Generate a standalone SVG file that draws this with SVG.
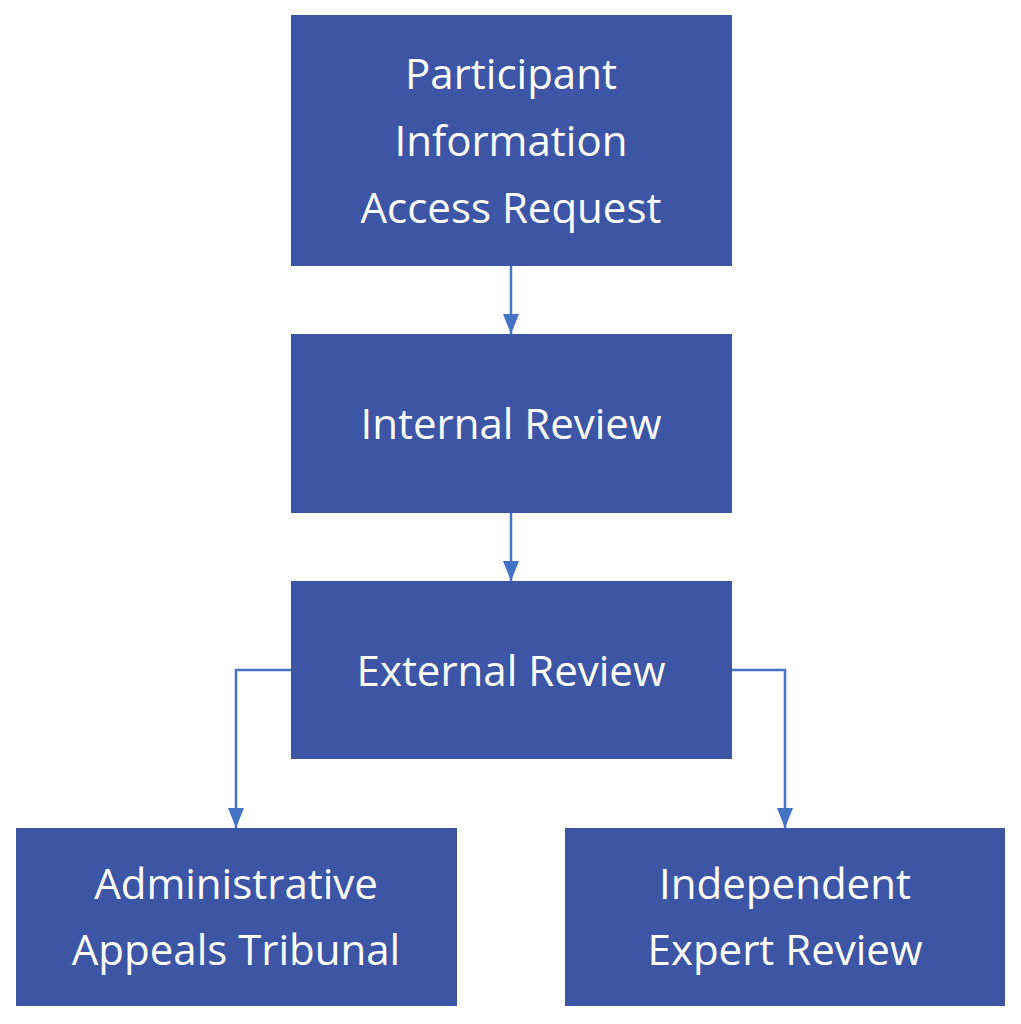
<svg xmlns="http://www.w3.org/2000/svg" width="1021" height="1024" viewBox="0 0 1021 1024">
<style>
.box{fill:#3C56A5}
.t{fill:#fff;font-family:"Open Sans","Liberation Sans",sans-serif;font-size:42px;text-anchor:middle}
.c{fill:none;stroke:#4472C4;stroke-width:2.5}
</style>
<defs><marker id="a" markerWidth="10" markerHeight="10" refX="9" refY="5" orient="auto" markerUnits="userSpaceOnUse" viewBox="0 0 10 10"><path d="M0,0L10,5L0,10z" fill="#4472C4"/></marker>
<marker id="h" viewBox="0 0 20 20" refX="20" refY="10" markerWidth="20" markerHeight="20" orient="auto" markerUnits="userSpaceOnUse"><path d="M0,2L20,10L0,18z" fill="#4472C4"/></marker></defs>
<rect width="1021" height="1024" fill="#fff"/>
<g id="connectors">
<path class="c" d="M511,266V334" marker-end="url(#h)"/>
<path class="c" d="M511,513V581" marker-end="url(#h)"/>
<path class="c" d="M291,670H236V828" marker-end="url(#h)"/>
<path class="c" d="M732,670H785V828" marker-end="url(#h)"/>
</g>
<g id="n1"><rect class="box" x="291" y="15" width="441" height="251"/><text class="t" x="511" y="89">Participant</text><text class="t" x="511" y="156">Information</text><text class="t" x="511" y="223">Access Request</text></g>
<g id="n2"><rect class="box" x="291" y="334" width="441" height="179"/><text class="t" x="511" y="439">Internal Review</text></g>
<g id="n3"><rect class="box" x="291" y="581" width="441" height="178"/><text class="t" x="511" y="686">External Review</text></g>
<g id="n4"><rect class="box" x="16" y="828" width="441" height="178"/><text class="t" x="236" y="899">Administrative</text><text class="t" x="236" y="965">Appeals Tribunal</text></g>
<g id="n5"><rect class="box" x="565" y="828" width="440" height="178"/><text class="t" x="785" y="899">Independent</text><text class="t" x="785" y="965">Expert Review</text></g>
</svg>
